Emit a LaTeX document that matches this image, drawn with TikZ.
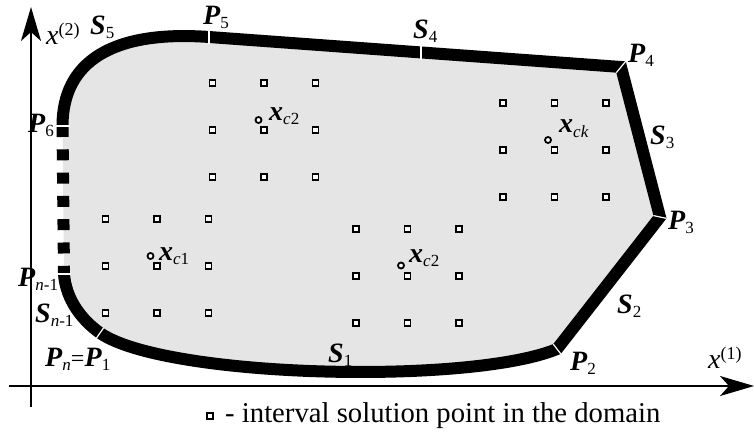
\documentclass[tikz,border=0pt]{standalone}
\usepackage{fontspec}
\setmainfont{Liberation Serif}
\usetikzlibrary{arrows.meta}
\definecolor{domfill}{RGB}{229,229,229}
\newcommand\bi[1]{\textbf{\textit{#1}}}
\newcommand\sbs[2][-4pt]{\raisebox{#1}{\fontsize{17}{18}\selectfont #2}}
\newcommand\sps[1]{\raisebox{9pt}{\fontsize{18}{19}\selectfont #1}}
\begin{document}
\begin{tikzpicture}[x=1pt,y=-1pt,
  lbl/.style={anchor=base west,inner sep=0pt,font=\fontsize{28}{30}\selectfont},
  sq/.style={draw,fill=white,minimum size=5.7pt,inner sep=0pt,line width=1.5pt},
  ctr/.style={circle,draw,fill=white,minimum size=6pt,inner sep=0pt,line width=1.8pt},
  bnd/.style={line width=12pt,line join=miter},
  tickw/.style={white,line width=1.2pt},
  axis/.style={line width=2pt,-{Stealth[length=34pt,width=20pt,inset=9pt]}}]
\useasboundingbox (0,0) rectangle (754,435);
% axes
\coordinate (yb) at (31,407);
\coordinate (yt) at (31,7);
\coordinate (xl) at (9,386);
\coordinate (xr) at (754,386);
\draw[axis] (yb) -- (yt);
\draw[axis] (xl) -- (xr);
% boundary points
\coordinate (P6) at (62.5,126);
\coordinate (P5) at (209,37);
\coordinate (P4) at (621,67);
\coordinate (P3) at (660,217);
\coordinate (P2) at (557,349);
\coordinate (P1) at (100,333);
\coordinate (Pm) at (64,274);
\fill[domfill] (P6) .. controls (62.5,62) and (112,30) .. (P5) -- (P4) -- (P3) -- (P2)
   .. controls (470,385) and (165,378) .. (P1) .. controls (82,320) and (66,300) .. (Pm) -- cycle;
\draw[bnd] (P6) .. controls (62.5,62) and (112,30) .. (P5) -- (P4) -- (P3) -- (P2)
   .. controls (470,385) and (165,378) .. (P1) .. controls (82,320) and (66,300) .. (Pm);
\draw[line width=12pt,dash pattern=on 11pt off 12.3pt] (P6) -- (Pm);
% white ticks
\draw[tickw] (209,30) -- (209,44);
\draw[tickw] (421,46) -- (421,60);
\draw[tickw] (616.3,72.7) -- (625.7,61.3);
\draw[tickw] (653.4,215.6) -- (666.6,218.4);
\draw[tickw] (553.2,344.1) -- (560.8,353.9);
\draw[tickw] (96.3,338.3) -- (103.7,327.7);
\draw[tickw] (57,274) -- (71,274);
\draw[tickw] (55.5,126) -- (69.5,126);
% grids of interval solution points
\foreach \gx/\gy [count=\g] in {212.5/83, 105.5/219, 356/229, 503/103}{
  \foreach \i in {0,1,2}{
    \foreach \j in {0,1,2}{
      \node[sq] (q\g\i\j) at ({\gx+\i*51.5},{\gy+\j*47}) {};
    }
  }
}
% centres
\node[ctr] (c1) at (150.5,256) {};
\node[ctr] (c2) at (258.5,120) {};
\node[ctr] (c3) at (401,265.5) {};
\node[ctr] (c4) at (548,140) {};
% labels
\node[lbl] (lx2) at (46,45) {\textit{x}\sps{(2)}};
\node[lbl] (lS5) at (90,35) {\bi{S}\sbs{5}};
\node[lbl] (lP5) at (203,25) {\bi{P}\sbs{5}};
\node[lbl] (lS4) at (413,39) {\bi{S}\sbs{4}};
\node[lbl] (lP4) at (628,63) {\bi{P}\sbs{4}};
\node[lbl] (lS3) at (650,145) {\bi{S}\sbs{3}};
\node[lbl] (lP3) at (668,230) {\bi{P}\sbs{3}};
\node[lbl] (lS2) at (617,313) {\bi{S}\sbs{2}};
\node[lbl] (lP2) at (570,370) {\bi{P}\sbs{2}};
\node[lbl] (lx1) at (708,368) {\textit{x}\sps{(1)}};
\node[lbl] (lS1) at (328,362) {\bi{S}\sbs{1}};
\node[lbl] (lPn) at (45,366) {\bi{P}\sbs{\textit{n}}{\fontsize{24}{26}\selectfont=}\bi{P}\sbs{1}};
\node[lbl] (lSm) at (35,322) {\bi{S}\sbs{\textit{n}-1}};
\node[lbl] (lPm) at (18,287) {\bi{P}\sbs{\textit{n}-1}};
\node[lbl] (lP6) at (28,133) {\bi{P}\sbs{6}};
\node[lbl] (lc1) at (159,261) {\bi{x}\sbs{\textit{c}1}};
\node[lbl] (lc2) at (269,121) {\bi{x}\sbs{\textit{c}2}};
\node[lbl] (lc3) at (409,263) {\bi{x}\sbs{\textit{c}2}};
\node[lbl] (lc4) at (559,133) {\bi{x}\sbs[-5pt]{\textit{ck}}};
% legend
\node[sq] (lsq) at (210,416) {};
\node[anchor=base west,inner sep=0pt,font=\fontsize{28.7}{30}\selectfont] (ltxt) at (225,422) {- interval solution point in the domain};
\end{tikzpicture}
\end{document}
